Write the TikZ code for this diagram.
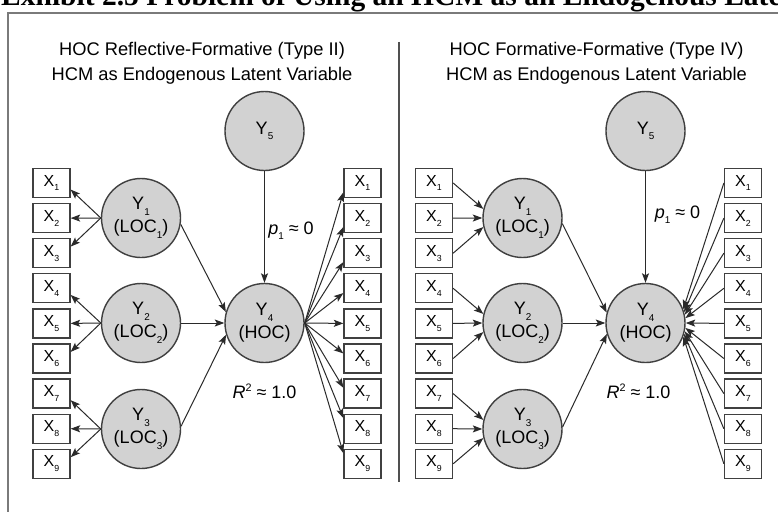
\documentclass[tikz,border=0pt]{standalone}
\usepackage{fontspec}
\setmainfont{Liberation Sans}
\newfontfamily\titlefont{Liberation Serif}
\usetikzlibrary{arrows.meta}
\definecolor{circdraw}{HTML}{404040}
\definecolor{circfill}{HTML}{D2D2D2}
\definecolor{arrowcol}{HTML}{2A2A2A}
\definecolor{framecol}{HTML}{7A7A7A}
\definecolor{divcol}{HTML}{505050}
\newcommand{\sbx}[1]{\raisebox{-0.3em}{\scalebox{0.55}{#1}}}
\newcommand{\spx}[1]{\raisebox{0.38em}{\scalebox{0.6}{#1}}}
\begin{document}
\begin{tikzpicture}[x=1pt,y=-1pt,
  lat/.style={circle, draw=circdraw, fill=circfill, line width=1.4pt, minimum size=79pt, inner sep=0pt, align=center, font=\fontsize{18}{23}\selectfont},
  ind/.style={rectangle, draw=circdraw, fill=white, line width=1.3pt, minimum width=37pt, minimum height=29pt, inner sep=0pt, font=\fontsize{16}{18}\selectfont},
  arr/.style={-{Stealth[length=9.5pt,width=7pt,inset=2pt]}, line width=1pt, draw=arrowcol},
  head/.style={font=\fontsize{18.3}{20}\selectfont, anchor=base, inner sep=0pt},
  lab/.style={font=\fontsize{18}{20}\selectfont, inner sep=0pt}
]
\useasboundingbox (0,0) rectangle (778,511);
\clip (0,0) rectangle (778,511);
\fill[white] (0,0) rectangle (778,511);

% cut-off title
\node[anchor=base west, inner sep=0pt, font=\titlefont\bfseries\fontsize{29.5}{31}\selectfont] (title) at (1,6) {Exhibit 2.5 Problem of Using an HCM as an Endogenous Latent Variable};

% frame and divider
\draw[framecol, line width=2pt] (7.5,530) -- (7.5,12.7) -- (800,12.7);
\draw[divcol, line width=1.5pt] (399,42) -- (399,482);

% headers
\node[head] (lh1) at (202,56) {HOC Reflective-Formative (Type II)};
\node[head] (lh2) at (202,80) {HCM as Endogenous Latent Variable};
\node[head] (rh1) at (596.5,56) {HOC Formative-Formative (Type IV)};
\node[head] (rh2) at (596.5,80) {HCM as Endogenous Latent Variable};

% indicator boxes
\foreach \i in {1,...,9} {
  \pgfmathsetmacro{\yy}{183+35.1*(\i-1)}
  \node[ind] (la\i) at (51.5,\yy) {X\sbx{\i}};
  \node[ind] (lb\i) at (362.5,\yy) {X\sbx{\i}};
  \node[ind] (ra\i) at (434,\yy) {X\sbx{\i}};
  \node[ind] (rb\i) at (743,\yy) {X\sbx{\i}};
}

% latent variables, left panel
\node[lat] (lY5) at (264.5,131) {Y\sbx{5}};
\node[lat] (lY1) at (141,218) {Y\sbx{1}\\(LOC\sbx{1})};
\node[lat] (lY2) at (141,323) {Y\sbx{2}\\(LOC\sbx{2})};
\node[lat] (lY3) at (141,429) {Y\sbx{3}\\(LOC\sbx{3})};
\node[lat] (lY4) at (264.5,323) {Y\sbx{4}\\(HOC)};

% latent variables, right panel
\node[lat] (rY5) at (645.5,131) {Y\sbx{5}};
\node[lat] (rY1) at (522.5,218) {Y\sbx{1}\\(LOC\sbx{1})};
\node[lat] (rY2) at (522.5,323) {Y\sbx{2}\\(LOC\sbx{2})};
\node[lat] (rY3) at (522.5,429) {Y\sbx{3}\\(LOC\sbx{3})};
\node[lat] (rY4) at (645.5,323) {Y\sbx{4}\\(HOC)};

% labels
\node[lab] (lp) at (291,231) {\textit{p}\sbx{1} ≈ 0};
\node[lab] (lr) at (264.5,391) {\textit{R}\spx{2} ≈ 1.0};
\node[lab] (rp) at (677.5,215) {\textit{p}\sbx{1} ≈ 0};
\node[lab] (rr) at (638.5,391) {\textit{R}\spx{2} ≈ 1.0};

% left panel: reflective first-order
\draw[arr] (lY1.west) -- (la1.-19);
\draw[arr] (lY1.west) -- (la2.east);
\draw[arr] (lY1.west) -- (la3.19);
\draw[arr] (lY2.west) -- (la4.-19);
\draw[arr] (lY2.west) -- (la5.east);
\draw[arr] (lY2.west) -- (la6.19);
\draw[arr] (lY3.west) -- (la7.-19);
\draw[arr] (lY3.west) -- (la8.east);
\draw[arr] (lY3.west) -- (la9.19);
% left panel: structural
\draw[arr] (lY1.-9) -- (lY4.164);
\draw[arr] (lY2.east) -- (lY4.west);
\draw[arr] (lY3.4) -- (lY4.197);
\draw[arr] (lY5.south) -- (lY4.north);
% left panel: HOC repeated indicators (reflective)
\foreach \i/\a in {1/206,2/205,3/205,4/194,5/180,6/165,7/163,8/151,9/151}
  \draw[arr] (lY4.east) -- (lb\i.\a);

% right panel: formative first-order
\draw[arr] (ra1.east) -- (rY1.167);
\draw[arr] (ra2.east) -- (rY1.west);
\draw[arr] (ra3.east) -- (rY1.193);
\draw[arr] (ra4.east) -- (rY2.167);
\draw[arr] (ra5.east) -- (rY2.west);
\draw[arr] (ra6.east) -- (rY2.193);
\draw[arr] (ra7.east) -- (rY3.167);
\draw[arr] (ra8.east) -- (rY3.west);
\draw[arr] (ra9.east) -- (rY3.193);
% right panel: structural
\draw[arr] (rY1.-8) -- (rY4.165);
\draw[arr] (rY2.east) -- (rY4.west);
\draw[arr] (rY3.3) -- (rY4.196);
\draw[arr] (rY5.south) -- (rY4.north);
% right panel: HOC repeated indicators (formative)
\foreach \i/\a in {1/20,2/16,3/12,4/7,5/0,6/-7,7/-12,8/-16,9/-20}
  \draw[arr] (rb\i.west) -- (rY4.\a);
\end{tikzpicture}
\end{document}
